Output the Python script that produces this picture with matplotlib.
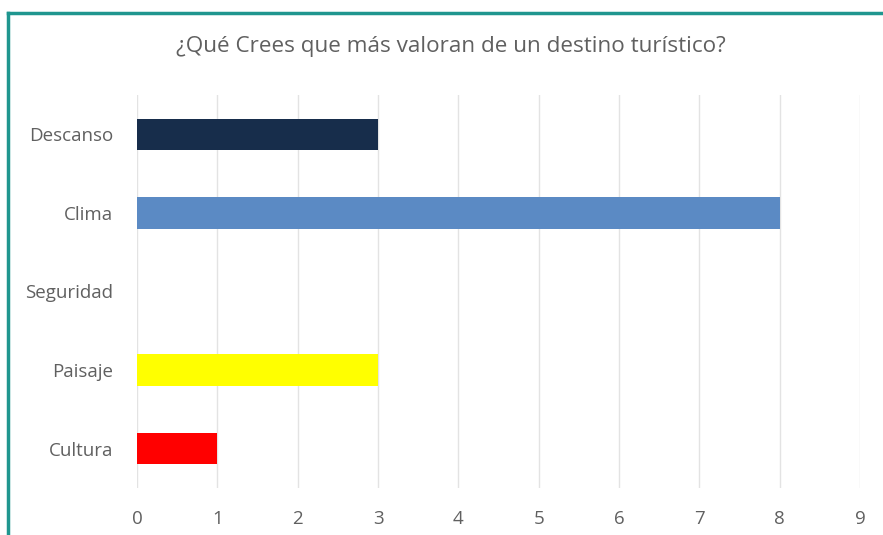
import matplotlib
matplotlib.use("Agg")
import matplotlib.pyplot as plt
from matplotlib.lines import Line2D

categories = ["Descanso", "Clima", "Seguridad", "Paisaje", "Cultura"]
values = [3, 8, 0, 3, 1]
colors = ["#172d4b", "#5b8ac4", "#4f81bd", "#ffff00", "#ff0000"]
xticks = list(range(0, 10))
title = "¿Qué Crees que más valoran de un destino turístico?"

plt.rcParams['font.family'] = ['Open Sans', 'DejaVu Sans']

fig = plt.figure(figsize=(8.83, 5.35), dpi=100)
ax = fig.add_axes([137/883, 47/535, (860-137)/883, (488-95)/535])

ypos = list(range(len(categories)))
ax.barh(ypos, values, height=0.4, color=colors, zorder=3)
ax.set_ylim(len(categories) - 0.5, -0.5)
ax.set_xlim(0, 9)
ax.set_xticks(xticks)
ax.set_yticks(ypos)
ax.set_yticklabels(categories)
ax.grid(axis='x', color='#e3e3e3', linewidth=1, zorder=0)
for s in ax.spines.values():
    s.set_visible(False)
ax.tick_params(axis='both', length=0, colors='#606060', labelsize=13.5)
ax.tick_params(axis='x', pad=16)
ax.tick_params(axis='y', pad=17)

fig.text(451/883, 1 - 47/535, title, ha='center', va='center', fontsize=16.2, color='#606060')

# border
c = '#1f968f'
fig.add_artist(Line2D([8/883, 1.0], [1 - 12.5/535, 1 - 12.5/535], color=c, linewidth=2.5, transform=fig.transFigure))
fig.add_artist(Line2D([8/883, 8/883], [0, 1 - 12.5/535], color=c, linewidth=2.5, transform=fig.transFigure))

fig.savefig("out.png", dpi=100)
